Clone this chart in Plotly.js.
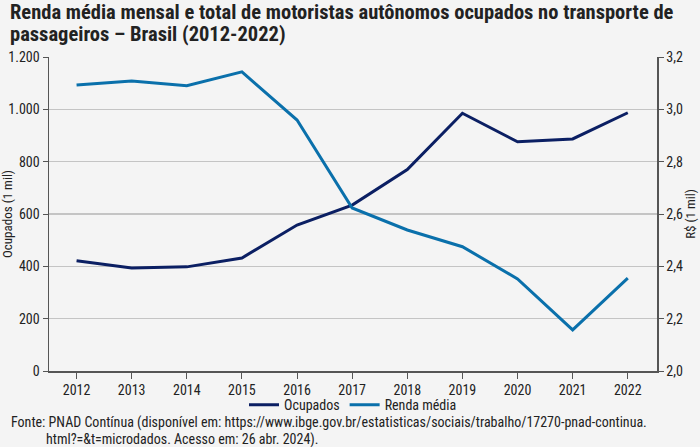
<!DOCTYPE html>
<html>
<head>
<meta charset="utf-8">
<script src="https://cdn.plot.ly/plotly-3.0.1.min.js"></script>
<style>html,body{margin:0;padding:0;background:#f4f4f4;}#chart{width:700px;height:447px;}</style>
</head>
<body>
<div id="chart"></div>
<script>
const years = [2012, 2013, 2014, 2015, 2016, 2017, 2018, 2019, 2020, 2021, 2022];
const ocupados = [421, 394, 398, 432, 558, 634, 770, 985, 876, 887, 987];
const rendaMedia = [3.093, 3.108, 3.090, 3.143, 2.959, 2.623, 2.539, 2.475, 2.352, 2.157, 2.355];
const leftTicks = [0, 200, 400, 600, 800, 1000, 1200];
const leftTickLabels = ["0", "200", "400", "600", "800", "1.000", "1.200"];
const rightTicks = [2.0, 2.2, 2.4, 2.6, 2.8, 3.0, 3.2];
const rightTickLabels = ["2,0", "2,2", "2,4", "2,6", "2,8", "3,0", "3,2"];

const FONT = "Liberation Sans Narrow, Roboto Condensed, Liberation Sans, sans-serif";
const AX = "#555555";

const traces = [
  {x: years, y: ocupados, name: "Ocupados", type: "scatter", mode: "lines",
   line: {color: "#0b1f63", width: 3}, yaxis: "y"},
  {x: years, y: rendaMedia, name: "Renda média", type: "scatter", mode: "lines",
   line: {color: "#0a70ab", width: 3}, yaxis: "y2"}
];

const layout = {
  width: 700, height: 447,
  paper_bgcolor: "#f4f4f4", plot_bgcolor: "#f4f4f4",
  margin: {l: 49, r: 43, t: 57, b: 76},
  font: {family: FONT, size: 13, color: "#222"},
  showlegend: true,
  legend: {orientation: "h", x: 0.5, xanchor: "center", y: -0.058, yanchor: "top",
    font: {family: FONT, size: 14, color: "#222"}, bgcolor: "rgba(0,0,0,0)", itemwidth: 30,
    tracegroupgap: 0},
  xaxis: {range: [2011.5, 2022.53], tickvals: years, ticktext: years.map(String),
    showgrid: false, zeroline: false, showline: true, linecolor: AX, linewidth: 1.5,
    ticks: "outside", ticklen: 6, tickcolor: AX, tickfont: {family: FONT, size: 14, color: "#222"}},
  yaxis: {range: [0, 1200], tickvals: leftTicks, ticktext: leftTickLabels,
    showgrid: true, gridcolor: "#c4c4c4", gridwidth: 1.2, zeroline: false,
    showline: true, linecolor: AX, linewidth: 1.5, ticks: "outside", ticklen: 5, tickcolor: AX,
    tickfont: {family: FONT, size: 14, color: "#222"},
    title: {text: "Ocupados (1 mil)", font: {family: FONT, size: 13, color: "#222"}, standoff: 4}},
  yaxis2: {range: [2.0, 3.2], tickvals: rightTicks, ticktext: rightTickLabels,
    overlaying: "y", side: "right", showgrid: false, zeroline: false,
    showline: true, linecolor: AX, linewidth: 1.5, ticks: "outside", ticklen: 5, tickcolor: AX,
    tickfont: {family: FONT, size: 14, color: "#222"},
    title: {text: "R$ (1 mil)", font: {family: FONT, size: 13, color: "#222"}, standoff: 4}},
  annotations: [
    {text: "<b>Renda média mensal e total de motoristas autônomos ocupados no transporte de</b>",
     xref: "paper", yref: "paper", x: -0.068, y: 1.142, xanchor: "left", yanchor: "middle", align: "left",
     showarrow: false, font: {family: FONT, size: 20.5, color: "#222"}},
    {text: "<b>passageiros – Brasil (2012-2022)</b>",
     xref: "paper", yref: "paper", x: -0.068, y: 1.072, xanchor: "left", yanchor: "middle", align: "left",
     showarrow: false, font: {family: FONT, size: 20.5, color: "#222"}},
    {text: "Fonte: PNAD Contínua (disponível em: https://www.ibge.gov.br/estatisticas/sociais/trabalho/17270-pnad-continua.",
     xref: "paper", yref: "paper", x: -0.066, y: -0.165, xanchor: "left", yanchor: "middle", showarrow: false,
     font: {family: FONT, size: 14, color: "#222"}},
    {text: "html?=&t=microdados. Acesso em: 26 abr. 2024).",
     xref: "paper", yref: "paper", x: -0.008, y: -0.217, xanchor: "left", yanchor: "middle", showarrow: false,
     font: {family: FONT, size: 14, color: "#222"}}
  ]
};

Plotly.newPlot("chart", traces, layout, {displayModeBar: false, staticPlot: true});
</script>
</body>
</html>
